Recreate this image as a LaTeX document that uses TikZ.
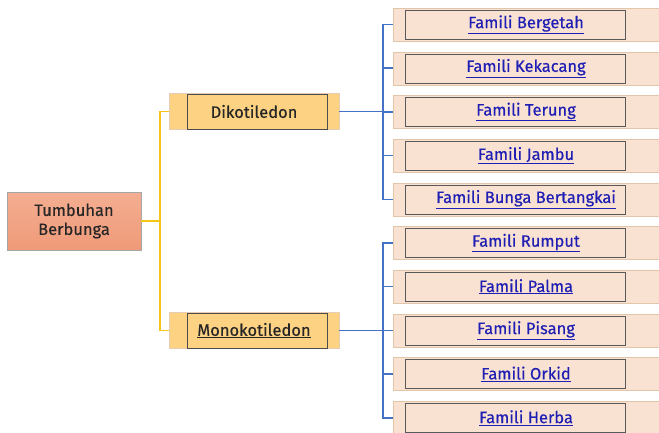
\documentclass[tikz,border=0pt]{standalone}
\usepackage{fontspec}
\setmainfont{Fira Sans}[FakeBold=0.4]
\definecolor{tbAkar}{HTML}{F4AE92}
\definecolor{tbAkarB}{HTML}{EF9A78}
\definecolor{tbKelas}{HTML}{FDD283}
\definecolor{tbDaun}{HTML}{FAE2D3}
\definecolor{tbKuning}{HTML}{F5C518}
\definecolor{tbBiru}{HTML}{4472C4}
\definecolor{tbPautan}{HTML}{1F1FB4}
\usetikzlibrary{positioning}

\begin{document}
\begin{tikzpicture}[x=1pt, y=-1pt,
	font=\fontsize{16.5}{19}\selectfont,
	akar/.style={draw=black!35, top color=tbAkar, bottom color=tbAkarB,
		minimum width=134pt, minimum height=58pt, align=center, text=black!85},
	kelas/.style={draw=brown!40, fill=tbKelas, minimum width=170pt, minimum height=36pt, text=black!85},
	kelasdalam/.style={draw=black!70, minimum width=140pt, minimum height=35pt},
	daun/.style={draw=brown!45, fill=tbDaun, minimum width=266pt, minimum height=33pt, text=tbPautan},
	daundalam/.style={draw=black!65, minimum width=220pt, minimum height=29pt},
	garisK/.style={tbKuning, line width=1.6pt},
	garisB/.style={tbBiru, line width=1.5pt}
	]
	
	\clip (0,0) rectangle (659,432);
	
	% Akar
	\node[akar] (akar) at (74,221) {Tumbuhan\\Berbunga};
	
	% Kelas
	\node[kelas] (dik) at (254,111.5) {Dikotiledon};
	\node[kelasdalam] at (257,111.5) {};
	\node[kelas] (mono) at (254,330.5) {\underline{Monokotiledon}};
	\node[kelasdalam] at (257,330.5) {};
	
	\draw[garisK] (akar.east) -- ++(19,0) |- (dik.west);
	\draw[garisK] (akar.east) -- ++(19,0) |- (mono.west);
	
	% Famili
	\foreach \i/\lab in {0/Bergetah,1/Kekacang,2/Terung,3/Jambu,4/Bunga Bertangkai,
		5/Rumput,6/Palma,7/Pisang,8/Orkid,9/Herba}{
		\node[daun] (f\i) at (526,24.5+43.7*\i) {\underline{Famili \lab}};
		\node[daundalam] at ([xshift=-11pt]f\i.center) {};
	}
	
	\foreach \i in {0,...,4}
		\draw[garisB] (dik.east) -- ++(44,0) |- (f\i.west);
	\foreach \i in {5,...,9}
		\draw[garisB] (mono.east) -- ++(44,0) |- (f\i.west);
	
\end{tikzpicture}
\end{document}
